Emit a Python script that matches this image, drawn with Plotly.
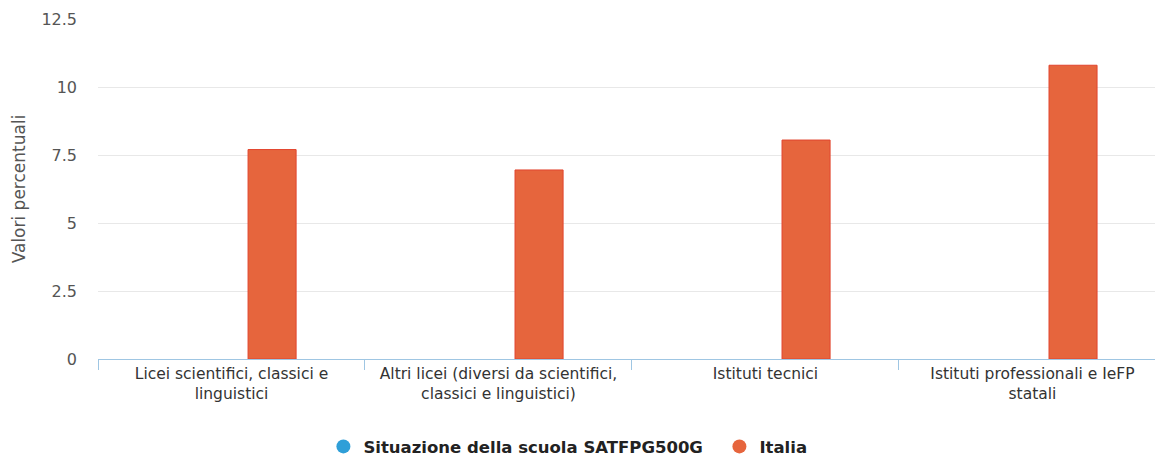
import plotly.graph_objects as go

categories = [
    "Licei scientifici, classici e<br>linguistici",
    "Altri licei (diversi da scientifici,<br>classici e linguistici)",
    "Istituti tecnici",
    "Istituti professionali e IeFP<br>statali",
]
school_values = [None, None, None, None]
italia_values = [7.7, 6.95, 8.05, 10.8]
y_ticks = [0, 2.5, 5, 7.5, 10, 12.5]
y_tick_labels = ["0", "2.5", "5", "7.5", "10", "12.5"]

school_name = "Situazione della scuola SATFPG500G\u00a0\u00a0"
italia_name = "Italia"
blue = "#2f9fd8"
orange = "#e6653d"

FONT = "DejaVu Sans"

fig = go.Figure()
fig.add_trace(go.Bar(
    x=categories, y=school_values, name=school_name,
    marker=dict(color=blue), width=0.18, offset=-0.24, showlegend=False,
))
fig.add_trace(go.Bar(
    x=categories, y=italia_values, name=italia_name,
    marker=dict(color=orange, line=dict(color="#e2452e", width=1)),
    width=0.18, offset=0.062, showlegend=False,
))
# legend markers (circles)
fig.add_trace(go.Scatter(x=[None], y=[None], mode="markers", name=school_name,
                         marker=dict(color=blue, size=14, symbol="circle")))
fig.add_trace(go.Scatter(x=[None], y=[None], mode="markers", name=italia_name,
                         marker=dict(color=orange, size=14, symbol="circle")))

fig.update_layout(
    width=1155, height=459,
    margin=dict(l=98, r=0, t=19, b=100, autoexpand=False),
    paper_bgcolor="white", plot_bgcolor="white",
    font=dict(family=FONT, color="#333333"),
    barmode="overlay",
    legend=dict(
        orientation="h", xref="container", yref="container",
        x=0.28, xanchor="left", y=0.065, yanchor="top",
        font=dict(family=FONT, size=16.5, color="#222222", weight="bold"),
        itemsizing="trace", itemwidth=30, traceorder="normal",
    ),
    xaxis=dict(
        type="category", range=[-0.5, 3.459], automargin=False,
        showline=True, linecolor="#9fc6e3", linewidth=1,
        ticks="outside", tickson="boundaries", ticklen=10, tickcolor="#9fc6e3",
        tickfont=dict(family=FONT, size=15.5, color="#333333"),
        showgrid=False, fixedrange=True,
    ),
    yaxis=dict(
        range=[0, 12.5], tickvals=y_ticks, ticktext=y_tick_labels, automargin=False,
        showgrid=True, gridcolor="#e8e8e8", gridwidth=1,
        zeroline=False, showline=False,
        tickfont=dict(family=FONT, size=16, color="#555555"),
        ticklabelstandoff=20,
        title=dict(text="Valori percentuali", font=dict(family=FONT, size=17, color="#555555"), standoff=11),
    ),
)

fig.write_html("out.html", post_script="document.body.style.margin='0';",
               config={"displayModeBar": False})
